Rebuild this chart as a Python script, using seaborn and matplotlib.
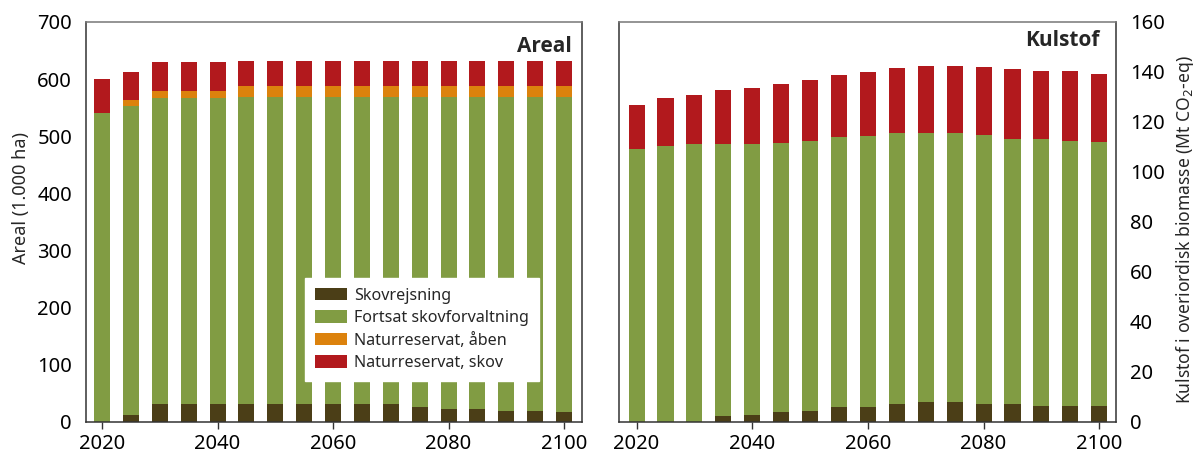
import numpy as np
import pandas as pd
import matplotlib
matplotlib.use("Agg")
import matplotlib.pyplot as plt
from matplotlib.patches import Patch
import seaborn as sns

# --- data -------------------------------------------------------------
years = [2020, 2025, 2030, 2035, 2040, 2045, 2050, 2055, 2060,
         2065, 2070, 2075, 2080, 2085, 2090, 2095, 2100]

# Areal (1.000 ha)
areal_skovrejsning = [0, 12, 32, 32, 32, 32, 32, 32, 32, 32, 32, 26, 23, 23, 19, 19, 17]
areal_fortsat = [540, 541, 535, 535, 535, 537, 537, 537, 537, 537, 537, 543, 546, 546, 550, 550, 552]
areal_aaben = [0, 10, 13, 13, 13, 19, 19, 19, 19, 19, 19, 19, 19, 19, 19, 19, 19]
areal_skov = [60, 49, 50, 50, 50, 43, 43, 43, 43, 43, 43, 43, 43, 43, 43, 43, 43]

# Kulstof i overjordisk biomasse (Mt CO2-eq)
kulstof_skovrejsning = [0, 0, 0, 2.4, 2.8, 4.0, 4.4, 6.0, 6.0, 7.2, 8.0, 8.0, 7.2, 7.2, 6.4, 6.4, 6.4]
kulstof_fortsat = [109.2, 110.4, 111.2, 108.8, 108.4, 107.6, 108.0, 108.0, 108.4, 108.4,
                   107.6, 107.6, 107.6, 106.0, 106.8, 106.0, 105.6]
kulstof_aaben = [0] * 17
kulstof_skov = [17.6, 19.2, 19.6, 21.6, 22.4, 23.6, 24.4, 24.8, 25.6, 26.0,
                26.8, 26.8, 27.2, 28.0, 27.2, 28.0, 27.2]

series_names = ["Skovrejsning", "Fortsat skovforvaltning",
                "Naturreservat, åben", "Naturreservat, skov"]
colors = ["#4b3e17", "#819c43", "#dc820d", "#b2191d"]

x_ticks = [2020, 2040, 2060, 2080, 2100]
areal_ticks = list(range(0, 701, 100))
kulstof_ticks = list(range(0, 161, 20))

# --- style ------------------------------------------------------------
sns.set_theme(style="white")
plt.rcParams["font.family"] = ["Noto Sans", "DejaVu Sans"]
edge = "#333333"


def stacked(ax, parts):
    """Draw stacked bars by layering cumulative totals from the top down."""
    df = pd.DataFrame({"year": years})
    cum = np.cumsum(np.array(parts, dtype=float), axis=0)
    for i in range(len(parts) - 1, -1, -1):
        df["value"] = cum[i]
        sns.barplot(data=df, x="year", y="value", native_scale=True,
                    color=colors[i], saturation=1, width=0.555,
                    errorbar=None, linewidth=0, edgecolor="none", ax=ax)


fig = plt.figure(figsize=(11.94, 4.57), dpi=100)
ax1 = fig.add_axes([0.072, 0.0766, 0.4154, 0.8753])
ax2 = fig.add_axes([0.5184, 0.0766, 0.4163, 0.8753])

stacked(ax1, [areal_skovrejsning, areal_fortsat, areal_aaben, areal_skov])
stacked(ax2, [kulstof_skovrejsning, kulstof_fortsat, kulstof_aaben, kulstof_skov])

ax1.set_xlim(2017.2, 2103.1)
ax2.set_xlim(2016.95, 2102.9)
ax1.set_ylim(0, 700)
ax2.set_ylim(0, 160)

for ax in (ax1, ax2):
    ax.set_xticks(x_ticks)
    ax.set_xticklabels([str(t) for t in x_ticks])
    ax.set_xlabel("")
    ax.tick_params(axis="x", length=5, width=1, color=edge, pad=4,
                   labelsize=14.5, colors="black", bottom=True)
    ax.tick_params(axis="y", length=0, pad=10, labelsize=14.5, colors="black")
    for s in ax.spines.values():
        s.set_visible(True)
        s.set_color(edge)
        s.set_linewidth(1.1)
    ax.spines["top"].set_color("#777777")

ax1.set_yticks(areal_ticks)
ax1.set_ylabel("Areal (1.000 ha)", fontsize=13)
ax1.yaxis.set_label_coords(-0.113, 0.56)

ax2.set_yticks(kulstof_ticks)
ax2.yaxis.tick_right()
ax2.yaxis.set_label_position("right")
ax2.tick_params(axis="y", right=True, left=False, length=0, pad=10)
ax2.set_ylabel("Kulstof i overiordisk biomasse (Mt CO$_2$-eq)", fontsize=12.6)
ax2.yaxis.set_label_coords(1.116, 0.48)

title_font = dict(fontsize=15, fontweight="bold", family=["Open Sans", "DejaVu Sans"])
ax1.text(0.979, 0.965, "Areal", transform=ax1.transAxes, ha="right", va="top",
         **title_font)
ax2.text(0.966, 0.98, "Kulstof", transform=ax2.transAxes, ha="right", va="top",
         **title_font)

handles = [Patch(facecolor=c, edgecolor="none") for c in colors]
leg = ax1.legend(handles, series_names, loc="lower left",
                 bbox_to_anchor=(0.4415, 0.1025), borderaxespad=0,
                 frameon=True, fancybox=False,
                 framealpha=1, facecolor="white", edgecolor="white",
                 fontsize=11.6, handlelength=1.98, handleheight=0.8,
                 labelspacing=0.4, borderpad=0.62, handletextpad=0.45)

fig.savefig("out.png", dpi=100)
